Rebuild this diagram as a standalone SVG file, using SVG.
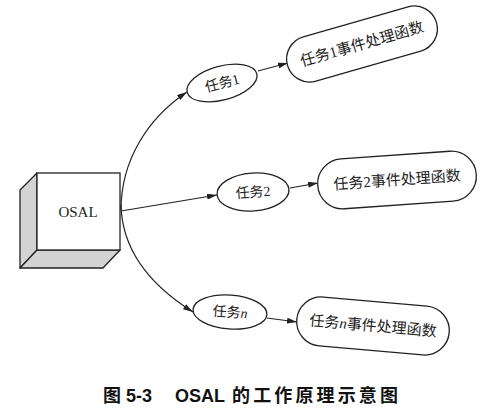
<svg xmlns="http://www.w3.org/2000/svg" width="487" height="416" viewBox="0 0 487 416">
<style>
.ln{fill:none;stroke:#222;stroke-width:1.2}
.shape{fill:#fff;stroke:#222;stroke-width:1.3}
.face{fill:#d3d3d3;stroke:#222;stroke-width:1.3;stroke-linejoin:round}
.t{font-family:"Liberation Serif","Noto Sans CJK SC",serif;fill:#222;text-anchor:middle}
.num{font-family:"Liberation Serif",serif}
.cap{font-family:"Liberation Sans","Noto Sans CJK SC",sans-serif;font-weight:bold;font-size:18px;fill:#111}
</style>
<defs>
<marker id="arr" viewBox="0 0 10 6" refX="10" refY="3" markerWidth="10" markerHeight="6" markerUnits="userSpaceOnUse" orient="auto">
<path d="M0,0 L10,3 L0,6 Z" fill="#222"/>
</marker>
</defs>
<rect width="487" height="416" fill="#fff"/>
<g id="osal">
<polygon class="face" points="37,173 20,190 20,268 37,250"/>
<polygon class="face" points="37,250 120,250 103,268 20,268"/>
<rect class="shape" x="37" y="173" width="83" height="77"/>
<text class="t" x="78" y="217" font-size="15">OSAL</text>
</g>
<g id="connectors">
<path class="ln" d="M121,210 C121,160 148,118 187,92" marker-end="url(#arr)"/>
<path class="ln" d="M121,211 L217,195" marker-end="url(#arr)"/>
<path class="ln" d="M121,205 C122,250 150,285 193,312" marker-end="url(#arr)"/>
<path class="ln" d="M258,71 L288,63" marker-end="url(#arr)"/>
<path class="ln" d="M290,188 L318,183" marker-end="url(#arr)"/>
<path class="ln" d="M267,318 L297,322" marker-end="url(#arr)"/>
</g>
<g id="task1" transform="translate(222,83) rotate(-15)">
<ellipse class="shape" cx="0" cy="0" rx="36" ry="17"/>
<text class="t" x="0" y="5" font-size="14">任务<tspan class="num">1</tspan></text>
</g>
<g id="task2" transform="translate(253,192) rotate(-4)">
<ellipse class="shape" cx="0" cy="0" rx="36" ry="19"/>
<text class="t" x="0" y="5" font-size="14">任务<tspan class="num">2</tspan></text>
</g>
<g id="taskn" transform="translate(230,312) rotate(4)">
<ellipse class="shape" cx="0" cy="0" rx="37" ry="17"/>
<text class="t" x="0" y="5" font-size="14">任务<tspan class="num" font-style="italic">n</tspan></text>
</g>
<g id="handler1" transform="translate(362,44) rotate(-16)">
<rect class="shape" x="-77.5" y="-23" width="155" height="46" rx="23"/>
<text class="t" x="0" y="5" font-size="15">任务<tspan class="num">1</tspan>事件处理函数</text>
</g>
<g id="handler2" transform="translate(397,180) rotate(-4)">
<rect class="shape" x="-79.5" y="-25" width="159" height="50" rx="25"/>
<text class="t" x="0" y="5" font-size="15">任务<tspan class="num">2</tspan>事件处理函数</text>
</g>
<g id="handlern" transform="translate(373,326) rotate(5)">
<rect class="shape" x="-76.5" y="-24.5" width="153" height="49" rx="24.5"/>
<text class="t" x="0" y="5" font-size="15">任务<tspan class="num" font-style="italic">n</tspan>事件处理函数</text>
</g>
<g id="caption">
<text class="cap" x="103" y="402">图 5-3</text>
<text class="cap" x="175" y="402">OSAL</text>
<text class="cap" x="232" y="402" textLength="166" lengthAdjust="spacing">的工作原理示意图</text>
</g>
</svg>
